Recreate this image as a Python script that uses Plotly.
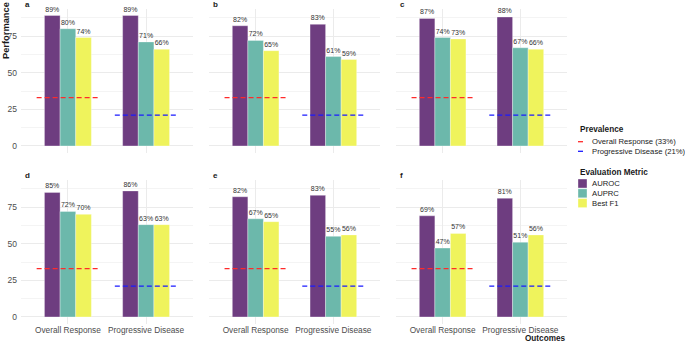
import plotly.graph_objects as go

# ---------------- data ----------------
panels = ["a", "b", "c", "d", "e", "f"]
categories = ["Overall Response", "Progressive Disease"]
metrics = ["AUROC", "AUPRC", "Best F1"]
auroc_vals = [[89, 89], [82, 83], [87, 88], [85, 86], [82, 83], [69, 81]]
auprc_vals = [[80, 71], [72, 61], [74, 67], [72, 63], [67, 55], [47, 51]]
f1_vals = [[74, 66], [65, 59], [73, 66], [70, 63], [65, 56], [57, 56]]
prevalence = [33, 21]
prevalence_labels = ["Overall Response (33%)", "Progressive Disease (21%)"]
y_ticks = [0, 25, 50, 75]

# ---------------- styles ----------------
W, H = 685, 342
metric_colors = ["#6e3d80", "#6cb8ab", "#eff35c"]
prev_colors = ["#ff2a2a", "#1a1aff"]
FONT = "Liberation Sans, Arial, sans-serif"
grid_major = "#ebebeb"
grid_minor = "#f4f4f4"

# panel geometry in pixels (left, right) / (top, bottom)
col_px = [(21, 193), (209, 380), (396, 567)]
row_px = [(9, 152.5), (180, 323.5)]

def px_x(v):
    return v / W

def px_y(v):
    return 1 - v / H

fig = go.Figure()
series = [auroc_vals, auprc_vals, f1_vals]
xs = [1, 2]

annotations = []
for i, p in enumerate(panels):
    r, c = divmod(i, 3)
    ax = "" if i == 0 else str(i + 1)
    xa, ya = "x" + ax, "y" + ax
    for m, name in enumerate(metrics):
        vals = series[m][i]
        fig.add_trace(go.Bar(
            x=xs, y=vals, name=name, xaxis=xa, yaxis=ya,
            marker=dict(color=metric_colors[m],
                        line=dict(color="rgba(255,255,255,0.55)", width=0.6)),
            text=[f"{v}%" for v in vals], textposition="outside",
            textfont=dict(size=7, color="#333333", family=FONT),
            constraintext="none", cliponaxis=False, showlegend=False,
            offsetgroup=str(m), hoverinfo="skip",
        ))
    for k, pv in enumerate(prevalence):
        fig.add_trace(go.Scatter(
            x=[xs[k] - 0.4, xs[k] + 0.4], y=[pv, pv], mode="lines",
            line=dict(color=prev_colors[k], width=1.3, dash="5px,3px"),
            xaxis=xa, yaxis=ya, showlegend=False, hoverinfo="skip",
        ))
    l, rr = col_px[c]
    t, b = row_px[r]
    fig.layout["xaxis" + ax] = dict(
        domain=[px_x(l), px_x(rr)], range=[0.4, 2.6], anchor=ya,
        tickvals=xs, ticktext=categories, showticklabels=(r == 1),
        showgrid=True, gridcolor=grid_major, gridwidth=0.8,
        zeroline=False, showline=False, ticks="",
        tickfont=dict(size=8.3, color="#4d4d4d", family=FONT),
    )
    fig.layout["yaxis" + ax] = dict(
        domain=[px_y(b), px_y(t)], range=[-4.45, 93.45], anchor=xa,
        tickvals=y_ticks, showticklabels=(c == 0),
        showgrid=True, gridcolor=grid_major, gridwidth=0.8,
        minor=dict(tickvals=[12.5, 37.5, 62.5, 87.5], showgrid=True,
                   gridcolor=grid_minor, gridwidth=0.5),
        zeroline=False, showline=False, ticks="", ticklabelstandoff=3,
        tickfont=dict(size=8.5, color="#4d4d4d", family=FONT),
    )
    annotations.append(dict(
        text=f"<b>{p}</b>", x=px_x(l + 2), y=px_y(t - 5), xref="paper", yref="paper",
        xanchor="left", yanchor="middle", showarrow=False,
        font=dict(size=8, color="#1a1a1a", family=FONT),
    ))

# axis titles
annotations.append(dict(
    text="<b>Performance</b>", x=px_x(6), y=px_y(31), xref="paper", yref="paper",
    textangle=-90, showarrow=False, xanchor="center", yanchor="middle",
    font=dict(size=9.3, color="#1a1a1a", family=FONT),
))
annotations.append(dict(
    text="<b>Outcomes</b>", x=px_x(567), y=px_y(338), xref="paper", yref="paper",
    showarrow=False, xanchor="right", yanchor="middle",
    font=dict(size=8.2, color="#1a1a1a", family=FONT),
))

# ---------------- manual legend ----------------
shapes = []
LX = 578
annotations.append(dict(
    text="<b>Prevalence</b>", x=px_x(LX - 0.5), y=px_y(129), xref="paper", yref="paper",
    showarrow=False, xanchor="left", yanchor="middle",
    font=dict(size=8.2, color="#1a1a1a", family=FONT),
))
for k, lab in enumerate(prevalence_labels):
    yy = 141.7 + k * 9.6
    shapes.append(dict(type="line", xref="paper", yref="paper",
                       x0=px_x(LX), x1=px_x(LX + 5), y0=px_y(yy), y1=px_y(yy),
                       line=dict(color=prev_colors[k], width=1.3)))
    annotations.append(dict(
        text=lab, x=px_x(590), y=px_y(yy), xref="paper", yref="paper",
        showarrow=False, xanchor="left", yanchor="middle",
        font=dict(size=7.7, color="#1a1a1a", family=FONT),
    ))
annotations.append(dict(
    text="<b>Evaluation Metric</b>", x=px_x(LX - 0.5), y=px_y(172.3), xref="paper", yref="paper",
    showarrow=False, xanchor="left", yanchor="middle",
    font=dict(size=8.2, color="#1a1a1a", family=FONT),
))
for m, name in enumerate(metrics):
    yy = 183.5 + m * 9.8
    shapes.append(dict(type="rect", xref="paper", yref="paper",
                       x0=px_x(LX), x1=px_x(LX + 9), y0=px_y(yy + 4.5), y1=px_y(yy - 4.5),
                       fillcolor=metric_colors[m],
                       line=dict(color="rgba(255,255,255,0.6)", width=0.6)))
    annotations.append(dict(
        text=name, x=px_x(590), y=px_y(yy), xref="paper", yref="paper",
        showarrow=False, xanchor="left", yanchor="middle",
        font=dict(size=7.7, color="#1a1a1a", family=FONT),
    ))

fig.update_layout(
    width=W, height=H, autosize=False,
    margin=dict(l=0, r=0, t=0, b=0),
    paper_bgcolor="white", plot_bgcolor="white",
    barmode="group", bargap=0.4, bargroupgap=0,
    annotations=annotations, shapes=shapes,
    font=dict(family=FONT),
    showlegend=False,
)

fig.write_html("out.html")
